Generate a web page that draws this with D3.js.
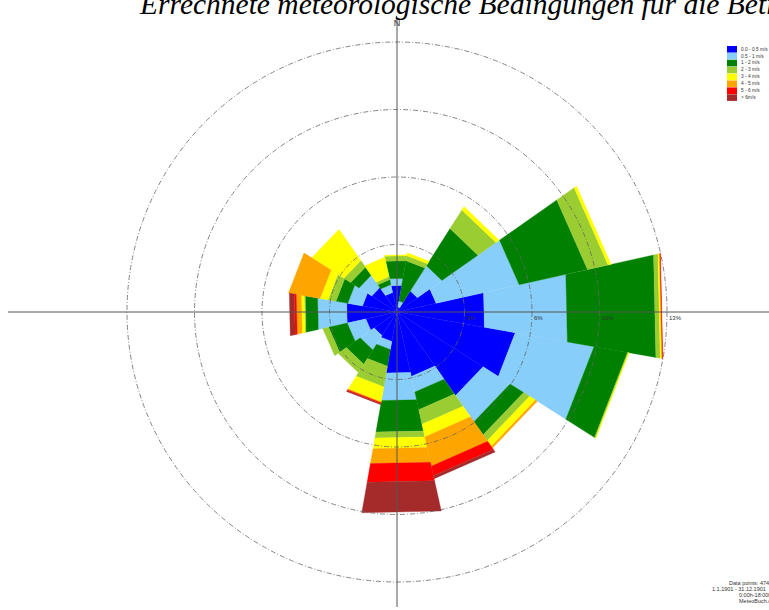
<!DOCTYPE html>
<html><head><meta charset="utf-8">
<script src="https://cdn.jsdelivr.net/npm/d3@7"></script>
<style>
html,body{margin:0;padding:0;background:#fff;overflow:hidden;}
svg{display:block;}
</style></head>
<body>
<svg id="chart" width="769" height="610"></svg>
<script>
// ---- data ----
const directions = ["N","NNE","NE","ENE","E","ESE","SE","SSE","S","SSW","SW","WSW","W","WNW","NW","NNW"];
const speedClasses = ["0.0 - 0.5 m/s","0.5 - 1 m/s","1 - 2 m/s","2 - 3 m/s","3 - 4 m/s","4 - 5 m/s","5 - 6 m/s","> 6m/s"];
const classColors = ["#0000ff","#87cefa","#008000","#9acd32","#ffff00","#ffa500","#ff0000","#a52a2a"];
// frequency (%) per direction for each speed class
const s0_05 = [1.33,0.25,1.23,1.98,4.38,5.93,5.04,3.26,3.06,1.48,1.38,1.58,2.52,1.73,1.48,0.99];
const s05_1 = [0.35,0.30,1.48,4.20,4.16,3.95,1.58,0.79,1.38,0.40,0.84,0.94,1.46,0.74,0.74,0.40];
const s1_2  = [0.89,2.02,2.17,3.46,4.44,1.68,0.79,0.89,1.58,0.84,0.84,0.94,0.62,0.59,0.49,0.25];
const s2_3  = [0.25,0.25,1.09,1.04,0.22,0.05,0.35,0.74,0.30,1.04,0.49,0.30,0.05,0.40,0.40,0.15];
const s3_4  = [0.05,0.15,0.20,0.15,0.07,0.03,0.35,0.64,0.54,0.74,0.00,0.00,0.15,0.40,1.88,0.99];
const s4_5  = [0.00,0.00,0.00,0.00,0.03,0.00,0.10,1.48,0.74,0.05,0.00,0.00,0.25,1.58,0.00,0.00];
const s5_6  = [0.00,0.00,0.00,0.00,0.03,0.00,0.00,0.49,0.94,0.05,0.00,0.00,0.10,0.00,0.00,0.00];
const s6p   = [0.00,0.00,0.00,0.00,0.00,0.00,0.00,0.15,1.53,0.05,0.00,0.00,0.25,0.00,0.00,0.00];
const seriesValues = [s0_05,s05_1,s1_2,s2_3,s3_4,s4_5,s5_6,s6p];
const ringValues = [10/3, 20/3, 10, 40/3];
const ringLabels = ["3%","6%","10%","13%"];
const titleText = "Errechnete meteorologische Bedingungen für die Betriebsstelle";
const infoLines = ["Data points: 4748","1.1.1901 - 31.12.1901","0:00h-18:00h","MeteoBuch.de"];

// ---- layout ----
const svg = d3.select("#chart");
const cx = 397, cy = 312;
const rScale = d3.scaleLinear().domain([0, 40/3]).range([0, 270]);
const sectorWidth = 2*Math.PI/directions.length;
const rotOffset = -1.3*Math.PI/180;
const angle = d3.scaleBand().domain(directions).range([0, 2*Math.PI]);

const g = svg.append("g").attr("transform", `translate(${cx},${cy})`);

// stacked bands
const stack = d3.stack().keys(d3.range(speedClasses.length))
  .value((d, k) => seriesValues[k][d])(d3.range(directions.length));

const radial = d3.lineRadial().curve(d3.curveLinearClosed);
stack.forEach((layer, k) => {
  g.append("g").selectAll("path").data(layer).join("path")
    .attr("d", (d, i) => {
      const a0 = angle(directions[i]) - sectorWidth/2 + rotOffset;
      const a1 = a0 + sectorWidth;
      const r0 = rScale(d[0]), r1 = rScale(d[1]);
      return radial([[a0, r0],[a0, r1],[a1, r1],[a1, r0]]);
    })
    .attr("fill", classColors[k])
    .attr("stroke", d => (d[1]-d[0]) > 0 ? classColors[k] : "none")
    .attr("stroke-width", 0.3);
});

// rings
g.append("g").selectAll("circle").data(ringValues).join("circle")
  .attr("r", d => rScale(d))
  .attr("fill", "none").attr("stroke", "#666").attr("stroke-width", 0.8)
  .attr("stroke-dasharray", "5,2,1,2");

// axes
svg.append("line").attr("x1", 8).attr("x2", 769).attr("y1", cy).attr("y2", cy)
  .attr("stroke", "#555").attr("stroke-width", 1);
svg.append("line").attr("x1", cx).attr("x2", cx).attr("y1", 19).attr("y2", 607)
  .attr("stroke", "#555").attr("stroke-width", 1);

g.append("g").selectAll("text").data(ringValues).join("text")
  .attr("x", d => rScale(d) + 2).attr("y", 8)
  .attr("font-family", "Arial, Liberation Sans, sans-serif").attr("font-size", 6)
  .attr("fill", "#333").text((d, i) => ringLabels[i]);

svg.append("text").attr("x", cx).attr("y", 26).attr("text-anchor", "middle")
  .attr("font-family", "Liberation Sans, Arial, sans-serif").attr("font-size", 9)
  .attr("fill", "#333").text("N");

// title
svg.append("text").attr("x", 140).attr("y", 14)
  .attr("font-family", "Liberation Serif, Times New Roman, serif").attr("font-style", "italic")
  .attr("font-size", 29.5).attr("fill", "#000").text(titleText);

// legend
const lg = svg.append("g").attr("transform", "translate(727,46)");
speedClasses.forEach((s, i) => {
  lg.append("rect").attr("x", 0).attr("y", i*6.9).attr("width", 10).attr("height", 6.6)
    .attr("fill", classColors[i]);
  lg.append("text").attr("x", 14).attr("y", i*6.9 + 4.6)
    .attr("font-family", "Liberation Sans, Arial, sans-serif").attr("font-size", 4.8)
    .attr("fill", "#333").text(s);
});

// info text
const infoX = [729, 712, 739, 739];
infoLines.forEach((t, i) => {
  svg.append("text").attr("x", infoX[i]).attr("y", 585 + i*6)
    .attr("font-family", "Liberation Sans, Arial, sans-serif").attr("font-size", 5.5)
    .attr("fill", "#333").text(t);
});
</script>
</body></html>
